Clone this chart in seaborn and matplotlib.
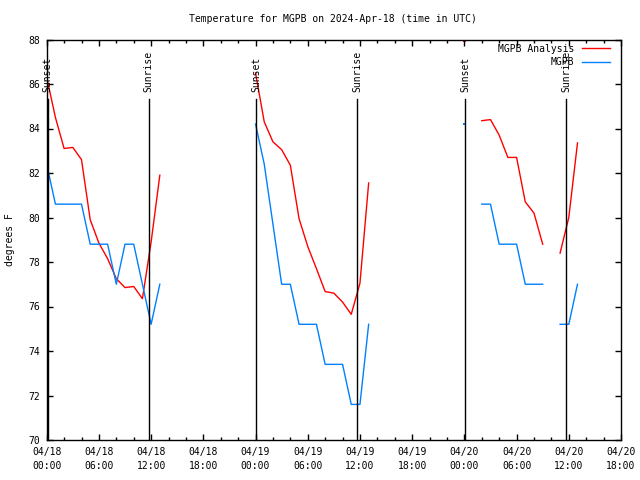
import numpy as np
import pandas as pd
import matplotlib
matplotlib.use("Agg")
import matplotlib.pyplot as plt
import matplotlib.dates as mdates
import seaborn as sns

# ---------------- data ----------------
title = "Temperature for MGPB on 2024-Apr-18 (time in UTC)"
y_label = "degrees F"
start_time = "2024-04-18 00:00"
end_time = "2024-04-20 18:00"

series_names = ["MGPB Analysis", "MGPB"]
series_colors = ["#ff0000", "#0080ff"]

# hours after 2024-04-18 00:00 UTC
analysis_hours = [0, 1, 2, 3, 4, 5, 6, 7, 8, 9, 10, 11, 12, 13,
                  24, 25, 26, 27, 28, 29, 30, 31, 32, 33, 34, 35, 36, 37,
                  48,
                  50, 51, 52, 53, 54, 55, 56, 57,
                  59, 60, 61]
analysis_temps = [86.3, 84.5, 83.1, 83.15, 82.6, 79.9, 78.85, 78.15, 77.25, 76.85, 76.9, 76.35, 78.9, 81.9,
                  86.5, 84.3, 83.4, 83.05, 82.35, 79.95, 78.7, 77.7, 76.67, 76.6, 76.2, 75.65, 77.05, 81.55,
                  87.95,
                  84.35, 84.4, 83.7, 82.7, 82.7, 80.7, 80.2, 78.8,
                  78.4, 80.0, 83.35]

obs_hours = [0, 1, 2, 3, 4, 5, 6, 7, 8, 9, 10, 11, 12, 13,
             24, 25, 26, 27, 28, 29, 30, 31, 32, 33, 34, 35, 36, 37,
             48,
             50, 51, 52, 53, 54, 55, 56, 57,
             59, 60, 61]
obs_temps = [82.4, 80.6, 80.6, 80.6, 80.6, 78.8, 78.8, 78.8, 77.0, 78.8, 78.8, 77.0, 75.2, 77.0,
             84.2, 82.4, 79.7, 77.0, 77.0, 75.2, 75.2, 75.2, 73.4, 73.4, 73.4, 71.6, 71.6, 75.2,
             84.2,
             80.6, 80.6, 78.8, 78.8, 78.8, 77.0, 77.0, 77.0,
             75.2, 75.2, 77.0]

sunset_times = ["2024-04-18 00:06", "2024-04-19 00:06", "2024-04-20 00:06"]
sunrise_times = ["2024-04-18 11:42", "2024-04-19 11:42", "2024-04-20 11:42"]
sun_labels = ["Sunset", "Sunrise"]

y_ticks = [70, 72, 74, 76, 78, 80, 82, 84, 86, 88]

# ---------------- build table ----------------
base = pd.Timestamp(start_time)
frames = []
for name, hours, temps in [(series_names[0], analysis_hours, analysis_temps),
                           (series_names[1], obs_hours, obs_temps)]:
    h = np.asarray(hours, dtype=float)
    seg = np.concatenate([[0], np.cumsum(np.diff(h) > 1)])
    frames.append(pd.DataFrame({
        "time": base + pd.to_timedelta(h, unit="h"),
        "temp": temps,
        "series": name,
        "segment": seg,
    }))
df = pd.concat(frames, ignore_index=True)
palette = dict(zip(series_names, series_colors))

# ---------------- plot ----------------
plt.rcParams["font.family"] = ["DejaVu Sans Mono"]
FS = 7

fig = plt.figure(figsize=(6.4, 4.8), dpi=100)
ax = fig.add_axes([46.7 / 640, 40 / 480, (621 - 46.7) / 640, (440 - 39.5) / 480])

sns.lineplot(data=df, x="time", y="temp", hue="series", units="segment",
             estimator=None, hue_order=series_names, palette=palette,
             linewidth=1.0, ax=ax)

sizes = df.groupby(["series", "segment"])["temp"].transform("size")
singles = df[sizes == 1]
sns.scatterplot(data=singles, x="time", y="temp", hue="series", hue_order=series_names,
                palette=palette, marker="s", s=3, linewidth=0, legend=False, ax=ax,
                clip_on=True)

for t in sunset_times:
    ax.axvline(pd.Timestamp(t), ymin=0, ymax=0.851, color="black", lw=1.0)
    ax.text(pd.Timestamp(t), 0.869, sun_labels[0], transform=ax.get_xaxis_transform(),
            rotation=90, ha="center", va="bottom", fontsize=FS)
for t in sunrise_times:
    ax.axvline(pd.Timestamp(t), ymin=0, ymax=0.851, color="black", lw=1.0)
    ax.text(pd.Timestamp(t), 0.869, sun_labels[1], transform=ax.get_xaxis_transform(),
            rotation=90, ha="center", va="bottom", fontsize=FS)

ax.set_xlim(pd.Timestamp(start_time), pd.Timestamp(end_time))
ax.set_ylim(y_ticks[0], y_ticks[-1])
ax.set_yticks(y_ticks)
ax.xaxis.set_major_locator(mdates.HourLocator(byhour=[0, 6, 12, 18]))
ax.xaxis.set_minor_locator(mdates.HourLocator(byhour=list(range(0, 24, 2))))
ax.xaxis.set_major_formatter(mdates.DateFormatter("%m/%d\n%H:%M"))
ax.tick_params(axis="both", which="major", direction="in", top=True, right=True,
               length=4, width=1, labelsize=FS, color="black")
ax.tick_params(axis="both", which="minor", direction="in", top=True, right=True,
               length=2, width=1, color="black")
ax.tick_params(axis="x", which="major", pad=5)
ax.tick_params(axis="y", which="major", pad=5)
for lab in ax.get_xticklabels():
    lab.set_linespacing(1.45)
for sp in ax.spines.values():
    sp.set_linewidth(1.0)
    sp.set_color("black")

ax.set_xlabel("")
ax.set_ylabel(y_label, fontsize=FS)
ax.yaxis.set_label_coords(-0.055, 0.5)
fig.text(333 / 640, 1 - 19 / 480, title, ha="center", va="center", fontsize=FS)

leg = ax.get_legend()
handles = leg.legend_handles
labels = [t.get_text() for t in leg.get_texts()]
ax.legend(handles, labels, loc="upper right", bbox_to_anchor=(0.981, 0.99),
          frameon=False, markerfirst=False, handlelength=2.9, handletextpad=0.8,
          labelspacing=0.35, borderpad=0, borderaxespad=0, fontsize=FS)

fig.savefig("out.png", dpi=100)
